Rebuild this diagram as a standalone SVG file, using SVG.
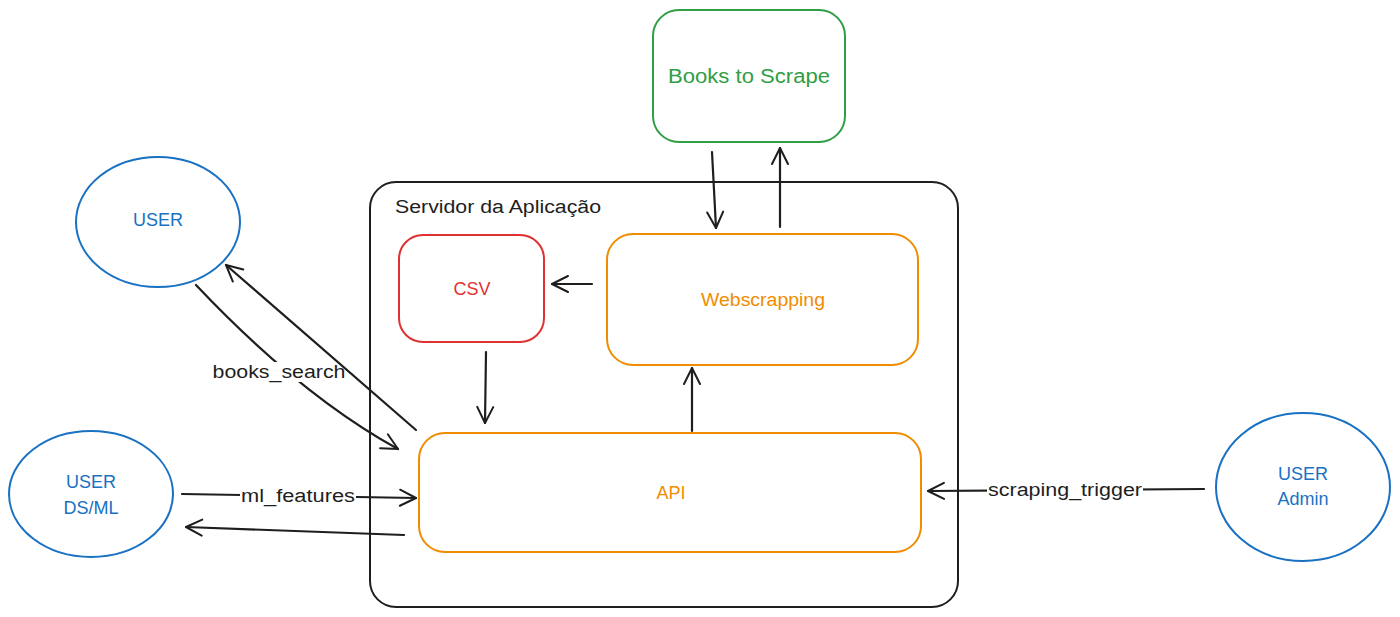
<svg xmlns="http://www.w3.org/2000/svg" width="1400" height="617" viewBox="0 0 1400 617">
<defs>
<marker id="ah" viewBox="0 0 20 20" refX="18" refY="10" markerWidth="20" markerHeight="20" markerUnits="userSpaceOnUse" orient="auto">
<path d="M2,2 L18,10 L2,18" fill="none" stroke="#1e1e1e" stroke-width="2" stroke-linecap="round" stroke-linejoin="round"/>
</marker>
</defs>
<style>
text{font-family:"Liberation Sans","DejaVu Sans",sans-serif;}
.box{fill:none;stroke-width:2;}
.conn{fill:none;stroke:#1e1e1e;stroke-width:2.2;stroke-linecap:round;marker-end:url(#ah);}
.lbl{font-size:18px;fill:#1e1e1e;text-anchor:middle;dominant-baseline:central;}
.lblbg{fill:#ffffff;}
.blue{fill:#1971c2;font-size:18px;text-anchor:middle;dominant-baseline:central;}
</style>
<rect width="1400" height="617" fill="#ffffff"/>

<g id="server">
<rect class="box" x="370" y="182" width="588" height="425" rx="26" stroke="#1e1e1e"/>
<text x="395" y="207" font-size="18" fill="#1e1e1e" dominant-baseline="central" textLength="206" lengthAdjust="spacingAndGlyphs">Servidor da Aplicação</text>
</g>

<g id="books">
<rect class="box" x="653" y="10" width="192" height="132" rx="26" stroke="#2f9e44"/>
<text x="749" y="76" font-size="20" fill="#2f9e44" text-anchor="middle" dominant-baseline="central" textLength="162" lengthAdjust="spacingAndGlyphs">Books to Scrape</text>
</g>

<g id="csv">
<rect class="box" x="399" y="235" width="145" height="107" rx="24" stroke="#e03131"/>
<text x="472" y="289" font-size="18" fill="#e03131" text-anchor="middle" dominant-baseline="central">CSV</text>
</g>

<g id="webscrapping">
<rect class="box" x="607" y="234" width="311" height="131" rx="26" stroke="#f08c00"/>
<text x="763" y="300" font-size="18" fill="#f08c00" text-anchor="middle" dominant-baseline="central" textLength="124" lengthAdjust="spacingAndGlyphs">Webscrapping</text>
</g>

<g id="api">
<rect class="box" x="419" y="433" width="502" height="119" rx="26" stroke="#f08c00"/>
<text x="671" y="493" font-size="18" fill="#f08c00" text-anchor="middle" dominant-baseline="central">API</text>
</g>

<g id="user">
<ellipse class="box" cx="158" cy="222" rx="82" ry="65" stroke="#1971c2"/>
<text class="blue" x="158" y="220">USER</text>
</g>

<g id="user-dsml">
<ellipse class="box" cx="91" cy="494" rx="82" ry="63" stroke="#1971c2"/>
<text class="blue" x="91" y="482">USER</text>
<text class="blue" x="91" y="508">DS/ML</text>
</g>

<g id="user-admin">
<ellipse class="box" cx="1303" cy="487" rx="87" ry="74" stroke="#1971c2"/>
<text class="blue" x="1303" y="474">USER</text>
<text class="blue" x="1303" y="499">Admin</text>
</g>

<g id="connectors">
<path class="conn" d="M712,152 L716,228"/>
<path class="conn" d="M780,227 L780,148"/>
<path class="conn" d="M592,284 L552,284"/>
<path class="conn" d="M486,352 L485,423"/>
<path class="conn" d="M692,431 L692,368"/>
<path class="conn" d="M196,285 Q300,395 398,449"/>
<rect class="lblbg" x="212" y="362" width="135" height="20"/>
<text class="lbl" x="279" y="372" textLength="133" lengthAdjust="spacingAndGlyphs">books_search</text>
<path class="conn" d="M416,430 L226,265"/>
<path class="conn" d="M182,494 L416,498"/>
<path class="conn" d="M404,535 L186,527"/>
<path class="conn" d="M1204,489 L928,491"/>
<rect class="lblbg" x="240" y="486" width="116" height="20"/>
<text class="lbl" x="298" y="496" textLength="114" lengthAdjust="spacingAndGlyphs">ml_features</text>
<rect class="lblbg" x="987" y="480" width="156" height="20"/>
<text class="lbl" x="1065" y="490" textLength="154" lengthAdjust="spacingAndGlyphs">scraping_trigger</text>
</g>
</svg>
